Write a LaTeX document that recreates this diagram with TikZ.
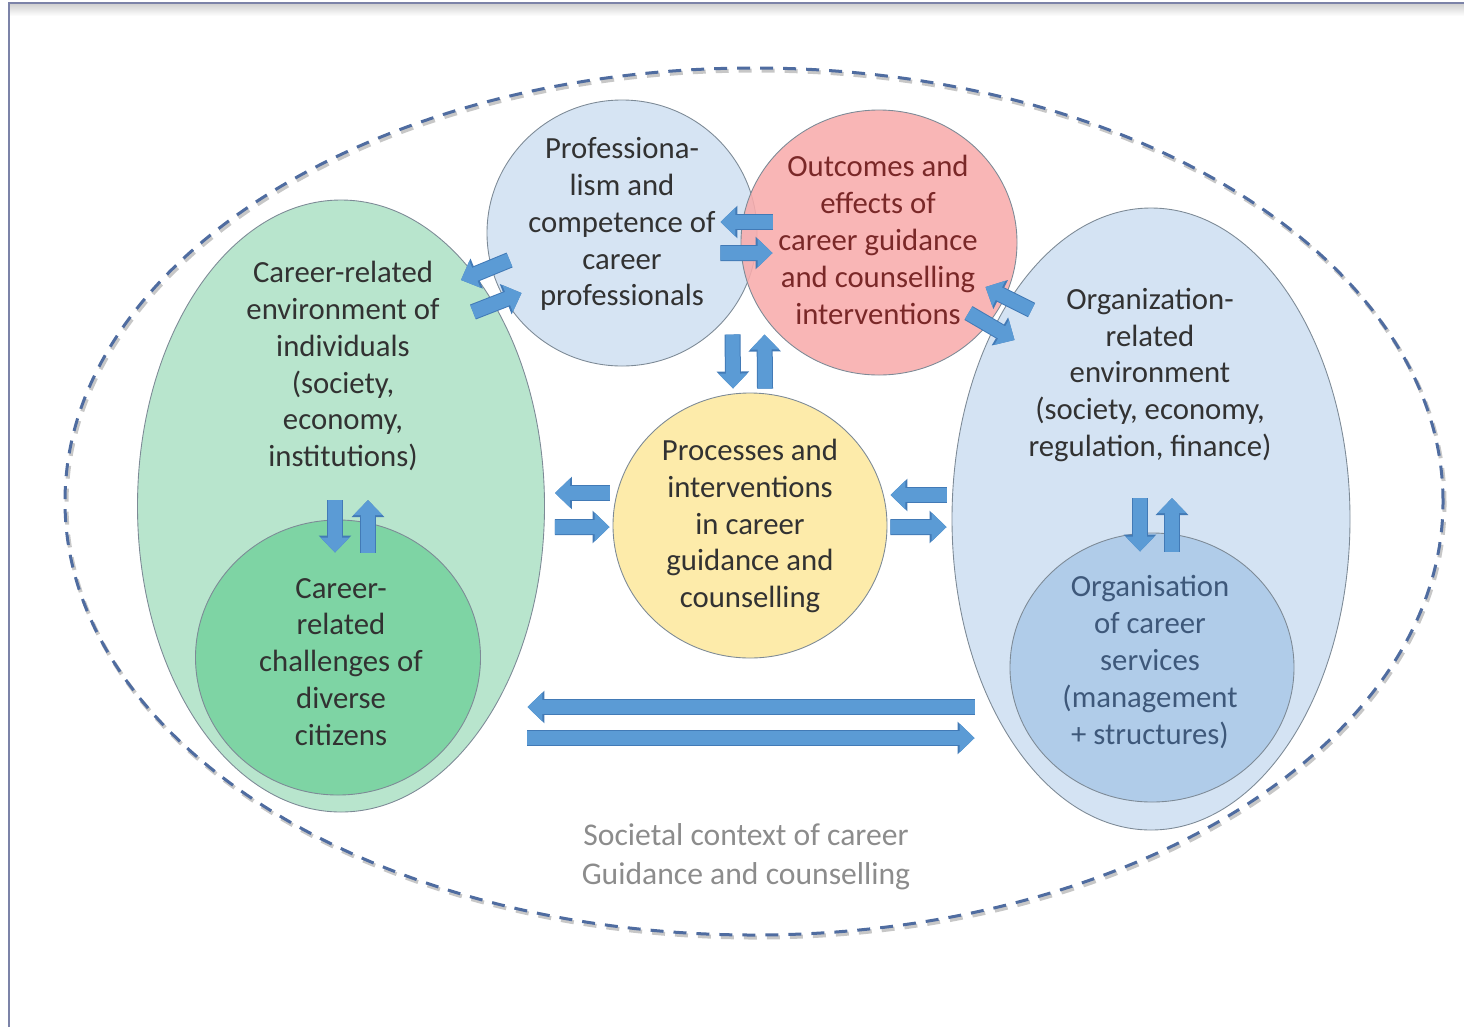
\documentclass[tikz,border=0pt]{standalone}
\usepackage{fontspec}
\setmainfont{Carlito}
\usetikzlibrary{arrows.meta,shapes.geometric,positioning}
\definecolor{envc}{RGB}{184,229,205}
\definecolor{citc}{RGB}{126,212,164}
\definecolor{profc}{RGB}{214,228,243}
\definecolor{outc}{RGB}{248,172,172}
\definecolor{procc}{RGB}{253,235,170}
\definecolor{orgc}{RGB}{212,227,243}
\definecolor{servc}{RGB}{176,204,233}
\definecolor{edgec}{RGB}{125,138,150}
\definecolor{arrc}{RGB}{91,155,213}
\definecolor{arredge}{RGB}{66,122,182}
\definecolor{dashc}{RGB}{79,108,160}
\definecolor{framec}{RGB}{124,131,168}
\definecolor{txtc}{RGB}{50,50,50}
\definecolor{outtxt}{RGB}{122,40,40}
\definecolor{servtxt}{RGB}{62,88,122}
\definecolor{soctxt}{RGB}{140,140,140}

\begin{document}
\begin{tikzpicture}[
  x=0.2mm, y=-0.2mm,
  font=\fontsize{17.5}{21}\selectfont,
  oval/.style={draw=edgec, line width=0.5pt, ellipse, inner sep=0pt},
  txt/.style={align=center, text=txtc, inner sep=0pt},
  fat/.style={draw=arrc, line width=2.8mm, -{Triangle[length=3mm,width=5.6mm]},
              preaction={draw=arredge, line width=3.2mm, -{Triangle[length=3.4mm,width=6.3mm]}}}
]
\useasboundingbox (0,0) rectangle (1464,1027);

% Rahmen
\shade[top color=black!18, bottom color=white] (10,4) rectangle (1464,16);
\draw[framec, line width=0.4mm] (9,1027) -- (9,3) -- (1464,3);

% gesellschaftlicher Kontext
\node[oval, draw=dashc, line width=0.6mm, dash pattern=on 2.6mm off 2mm,
      preaction={draw=black!22, line width=0.8mm, transform canvas={xshift=0.3mm, yshift=-0.5mm}},
      minimum width=275.6mm, minimum height=173.4mm] (soc) at (754,501.5) {};
\node[txt, text=soctxt, font=\fontsize{18}{22}\selectfont] (soctxt) at (746,857)
  {Societal context of career\\Guidance and counselling};

% Umfeld links und rechts
\node[oval, fill=envc, minimum width=81.4mm, minimum height=122.4mm] (env) at (341,506) {};
\node[oval, fill=orgc, minimum width=79.6mm, minimum height=124.4mm] (org) at (1151,519) {};
\node[oval, fill=citc, minimum width=57mm, minimum height=55mm] (cit) at (338,657.5) {};
\node[oval, fill=servc, minimum width=56.8mm, minimum height=53.8mm] (serv) at (1152,667.5) {};

% Kreise in der Mitte
\node[oval, fill=profc, minimum width=54mm, minimum height=53.2mm] (prof) at (622,233) {};
\node[oval, fill=outc, fill opacity=0.88, minimum width=55.2mm, minimum height=53mm] (out) at (879,242.5) {};
\node[oval, fill=procc, minimum width=54.8mm, minimum height=53mm] (proc) at (750,525.5) {};

% Texte
\node[txt] (envtxt) at (343,366)
  {Career-related\\environment of\\individuals\\(society,\\economy,\\institutions)};
\node[txt] (orgtxt) at (1150,375)
  {Organization-\\related\\environment\\(society, economy,\\regulation, finance)};
\node[txt] (cittxt) at (341,662)
  {Career-\\related\\challenges of\\diverse\\citizens};
\node[txt, text=servtxt] (servtxt) at (1150,662)
  {Organisation\\of career\\services\\(management\\+ structures)};
\node[txt] (proftxt) at (622,224)
  {Professiona-\\lism and\\competence of\\career\\professionals};
\node[txt, text=outtxt] (outtxt) at (878,240)
  {Outcomes and\\effects of\\career guidance\\and counselling\\interventions};
\node[txt] (proctxt) at (750,526)
  {Processes and\\interventions\\in career\\guidance and\\counselling};

% Pfeile
\draw[fat] ([shift={(23,27)}]prof.west) -- ([shift={(-84,-226)}]env.east);
\draw[fat] ([shift={(-72,-194)}]env.east) -- ([shift={(35,60)}]prof.west);

\draw[fat] ([shift={(32,-20.5)}]out.west) -- ([shift={(-37,-11)}]prof.east);
\draw[fat] ([shift={(-37,20)}]prof.east) -- ([shift={(32,10.5)}]out.west);

\draw[fat] ([shift={(80,-209)}]org.west) -- ([shift={(-32,44.5)}]out.east);
\draw[fat] ([shift={(-49,70.5)}]out.east) -- ([shift={(63,-179)}]org.west);

\draw[fat] ([shift={(-8,92)}]out.west) -- ([shift={(-17,-4)}]proc.north);
\draw[fat] ([shift={(15,-4)}]proc.north) -- ([shift={(24,92)}]out.west);

\draw[fat] ([shift={(-3,-32.5)}]proc.west) -- ([shift={(10,-13)}]env.east);
\draw[fat] ([shift={(10,21)}]env.east) -- ([shift={(-3,1.5)}]proc.west);

\draw[fat] ([shift={(-5,-24)}]org.west) -- ([shift={(3,-30.5)}]proc.east);
\draw[fat] ([shift={(3,1.5)}]proc.east) -- ([shift={(-5,8)}]org.west);

\draw[fat] ([shift={(-6,-6)}]env.center) -- ([shift={(-3,33)}]cit.north);
\draw[fat] ([shift={(30,33)}]cit.north) -- ([shift={(27,-6)}]env.center);

\draw[fat] ([shift={(-11,-21)}]org.center) -- ([shift={(-12,19)}]serv.north);
\draw[fat] ([shift={(20,19)}]serv.north) -- ([shift={(21,-21)}]org.center);

\draw[fat] ([shift={(23,188)}]org.west) -- ([shift={(-17.5,201)}]env.east);
\draw[fat] ([shift={(-17.5,232)}]env.east) -- ([shift={(23,219)}]org.west);

\end{tikzpicture}
\end{document}
